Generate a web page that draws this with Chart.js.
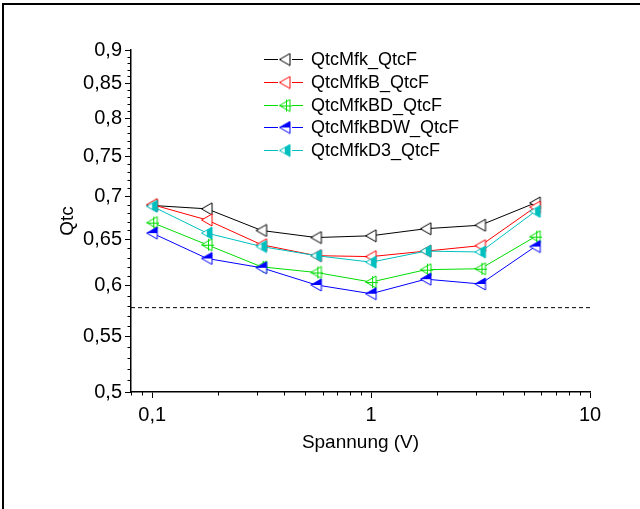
<!DOCTYPE html>
<html>
<head>
<meta charset="utf-8">
<script src="https://cdn.jsdelivr.net/npm/chart.js@4.4.1/dist/chart.umd.min.js"></script>
<style>
  body { margin: 0; overflow: hidden; background: #fff; }
  #frame { position: absolute; left: 2px; top: 3px; width: 700px; height: 600px;
           border-top: 2px solid #000; border-left: 2px solid #000; pointer-events: none; }
</style>
</head>
<body>
<canvas id="qtcChart" width="640" height="509"></canvas>
<div id="frame"></div>
<script>
const ctx = document.getElementById('qtcChart');

// Spannung (V)
const voltage = [0.1, 0.178, 0.316, 0.562, 1, 1.78, 3.16, 5.62];

const seriesNames = ['QtcMfk_QtcF', 'QtcMfkB_QtcF', 'QtcMfkBD_QtcF', 'QtcMfkBDW_QtcF', 'QtcMfkD3_QtcF'];
const qtcMfk    = [0.689, 0.685, 0.660, 0.652, 0.654, 0.662, 0.666, 0.692];
const qtcMfkB   = [0.690, 0.672, 0.644, 0.632, 0.631, 0.637, 0.643, 0.687];
const qtcMfkBD  = [0.669, 0.644, 0.620, 0.614, 0.604, 0.617, 0.618, 0.653];
const qtcMfkBDW = [0.657, 0.629, 0.619, 0.601, 0.592, 0.607, 0.602, 0.642];
const qtcMfkD3  = [0.688, 0.657, 0.642, 0.632, 0.625, 0.637, 0.636, 0.682];
const refLevel = 0.578;

const xMajor = [0.1, 1, 10];
const xLabels = ['0,1', '1', '10'];
const xMinor = [0.08, 0.09, 0.2, 0.3, 0.4, 0.5, 0.6, 0.7, 0.8, 0.9, 2, 3, 4, 5, 6, 7, 8, 9];
const yMajor = [0.5, 0.55, 0.6, 0.65, 0.7, 0.75, 0.8, 0.85, 0.9];
const yLabels = ['0,5', '0,55', '0,6', '0,65', '0,7', '0,75', '0,8', '0,85', '0,9'];
const yMinor = [0.51, 0.52, 0.53, 0.54, 0.56, 0.57, 0.58, 0.59, 0.61, 0.62, 0.63, 0.64,
                0.66, 0.67, 0.68, 0.69, 0.71, 0.72, 0.73, 0.74, 0.76, 0.77, 0.78, 0.79,
                0.81, 0.82, 0.83, 0.84, 0.86, 0.87, 0.88, 0.89];

const colors = ['#000000', '#ff0000', '#00dd00', '#0000ff', '#00bfbf'];
const allSeries = [qtcMfk, qtcMfkB, qtcMfkBD, qtcMfkBDW, qtcMfkD3];

// left pointing triangle markers, different fills like in origin
function makeMarker(color, kind) {
  const c = document.createElement('canvas');
  c.width = 14; c.height = 14;
  const g = c.getContext('2d');
  const tri = () => { g.beginPath(); g.moveTo(1.5, 7); g.lineTo(12, 1); g.lineTo(12, 13); g.closePath(); };
  tri(); g.fillStyle = '#fff'; g.fill();
  g.fillStyle = color;
  if (kind === 'top') {
    g.beginPath(); g.moveTo(1.5, 7); g.lineTo(12, 1); g.lineTo(12, 7); g.closePath(); g.fill();
  }
  if (kind === 'right') {
    g.beginPath(); g.moveTo(6.8, 4); g.lineTo(12, 1); g.lineTo(12, 13); g.lineTo(6.8, 10); g.closePath(); g.fill();
  }
  g.strokeStyle = color; g.lineWidth = 1;
  tri(); g.stroke();
  if (kind === 'cross') {
    g.beginPath(); g.moveTo(1.5, 7.5); g.lineTo(14, 7.5); g.moveTo(8.5, 1); g.lineTo(8.5, 13); g.stroke();
  }
  return c;
}
const markers = [
  makeMarker(colors[0], 'open'),
  makeMarker(colors[1], 'open'),
  makeMarker(colors[2], 'cross'),
  makeMarker(colors[3], 'top'),
  makeMarker(colors[4], 'right')
];

const datasets = allSeries.map((vals, i) => ({
  label: seriesNames[i],
  data: voltage.map((v, j) => ({x: v, y: vals[j]})),
  borderColor: colors[i],
  borderWidth: 1,
  pointStyle: markers[i],
  pointRadius: 7,
  order: 5 - i
}));
datasets.push({
  label: 'ref',
  data: [{x: 0.08, y: refLevel}, {x: 10, y: refLevel}],
  borderColor: '#000',
  borderWidth: 1,
  borderDash: [4, 3],
  pointRadius: 0,
  order: 10
});

const minorTicks = {
  id: 'minorTicks',
  afterDraw(chart) {
    const {ctx, chartArea: a, scales: {x, y}} = chart;
    ctx.save();
    ctx.strokeStyle = '#000';
    ctx.lineWidth = 1;
    ctx.beginPath();
    xMinor.forEach(v => {
      const px = Math.round(x.getPixelForValue(v)) + 0.5;
      ctx.moveTo(px, a.bottom); ctx.lineTo(px, a.bottom + 3.5);
    });
    yMinor.forEach(v => {
      const py = Math.round(y.getPixelForValue(v)) + 0.5;
      ctx.moveTo(a.left - 3.5, py); ctx.lineTo(a.left, py);
    });
    ctx.stroke();
    ctx.restore();
  }
};

const seriesLegend = {
  id: 'seriesLegend',
  afterDraw(chart) {
    const c = chart.ctx;
    c.save();
    c.font = '18px "Liberation Sans", Arial, sans-serif';
    c.textBaseline = 'middle';
    seriesNames.forEach((name, i) => {
      const yy = Math.round(59 + i * 22.8);
      c.strokeStyle = colors[i];
      c.lineWidth = 1;
      c.beginPath();
      c.moveTo(264, yy + 0.5); c.lineTo(278, yy + 0.5);
      c.moveTo(292, yy + 0.5); c.lineTo(303, yy + 0.5);
      c.stroke();
      c.drawImage(markers[i], 285 - 7, yy - 6.5);
      c.fillStyle = '#000';
      c.fillText(name, 311, yy + 1);
    });
    c.restore();
  }
};

Chart.defaults.font.family = '"Liberation Sans", Arial, sans-serif';
Chart.defaults.font.size = 19;
Chart.defaults.color = '#000';

const chartQtc = new Chart(ctx, {
  type: 'line',
  data: { datasets: datasets },
  options: {
    responsive: false,
    animation: false,
    layout: { padding: { left: 56, top: 50, right: 50, bottom: 55 } },
    plugins: { legend: { display: false }, tooltip: { enabled: false } },
    scales: {
      x: {
        type: 'logarithmic',
        min: 0.08,
        max: 10,
        border: { display: true, color: '#000', width: 1.5 },
        grid: { drawOnChartArea: false, tickLength: 6, tickColor: '#000' },
        afterBuildTicks: s => { s.ticks = xMajor.map(v => ({value: v, major: true})); },
        afterFit: s => { s.height = 62; },
        ticks: {
          autoSkip: false, maxRotation: 0, padding: 5, font: { size: 20 },
          callback: (v) => xLabels[xMajor.indexOf(v)]
        },
        title: { display: true, text: 'Spannung (V)', padding: 0 }
      },
      y: {
        type: 'logarithmic',
        min: 0.5,
        max: 0.9,
        border: { display: true, color: '#000', width: 1.5 },
        grid: { drawOnChartArea: false, tickLength: 6, tickColor: '#000' },
        afterBuildTicks: s => { s.ticks = yMajor.map(v => ({value: v, major: true})); },
        afterFit: s => { s.width = 75; },
        ticks: {
          autoSkip: false, padding: 3, font: { size: 20 },
          callback: (v) => yLabels[yMajor.indexOf(v)]
        },
        title: { display: true, text: 'Qtc', padding: 0 }
      }
    }
  },
  plugins: [minorTicks, seriesLegend]
});
</script>
</body>
</html>
